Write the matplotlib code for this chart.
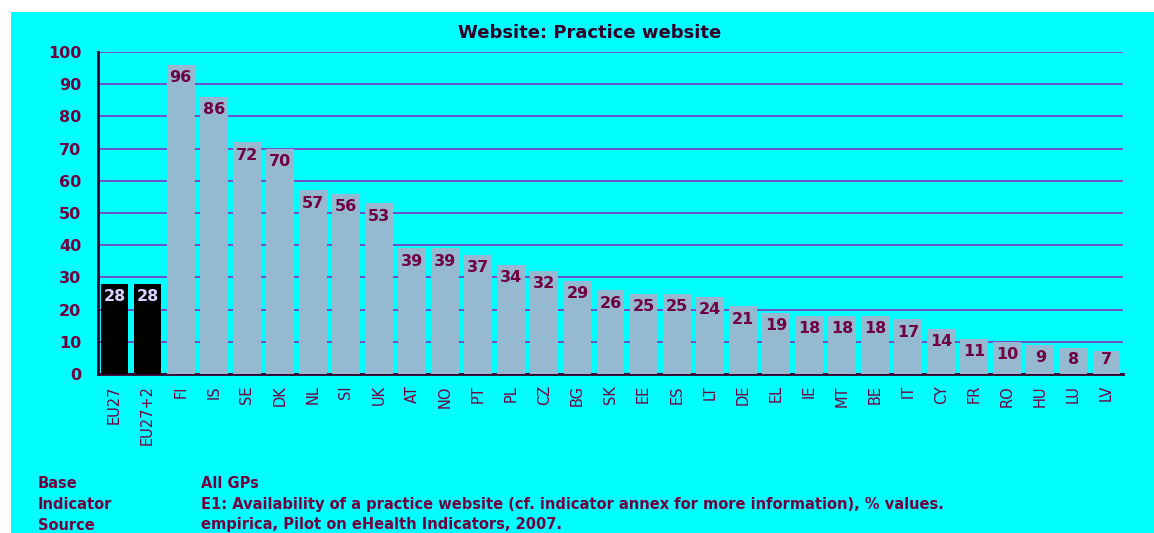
import matplotlib
matplotlib.use("Agg")
import matplotlib.pyplot as plt
from matplotlib.patches import Rectangle
import numpy as np


COUNTRIES = ["EU27", "EU27+2", "FI", "IS", "SE", "DK", "NL", "SI", "UK", "AT",
             "NO", "PT", "PL", "CZ", "BG", "SK", "EE", "ES", "LT", "DE", "EL",
             "IE", "MT", "BE", "IT", "CY", "FR", "RO", "HU", "LU", "LV"]
VALUES = [28, 28, 96, 86, 72, 70, 57, 56, 53, 39, 39, 37, 34, 32, 29, 26, 25,
          25, 24, 21, 19, 18, 18, 18, 17, 14, 11, 10, 9, 8, 7]
AVERAGES = ["EU27", "EU27+2"]

FOOTER_KEYS = ["Base", "Indicator", "Source"]
FOOTER_TEXT = [
    "All GPs",
    "E1: Availability of a practice website (cf. indicator annex for more information), % values.",
    "empirica, Pilot on eHealth Indicators, 2007.",
]

CYAN = "#00ffff"
BAR_COLOR = "#96b9d2"
TEXT_COLOR = "#700040"
GRID_COLOR = "#7a40cc"
AXIS_COLOR = "#3a0030"

W, H = 1154, 533


def main() -> None:
    fig = plt.figure(figsize=(W / 100, H / 100), dpi=100)
    fig.patch.set_facecolor("white")
    fig.add_artist(Rectangle((11 / W, 0), 1 - 11 / W, 1 - 12 / H,
                             transform=fig.transFigure, facecolor=CYAN,
                             edgecolor="none", zorder=-10))

    ax = fig.add_axes([98 / W, (H - 374) / H, (1123 - 98) / W, (374 - 52) / H])
    ax.set_facecolor("none")

    x = np.arange(len(COUNTRIES))
    colors = ["black" if c in AVERAGES else BAR_COLOR for c in COUNTRIES]
    ax.bar(x, VALUES, width=0.84, color=colors, zorder=3)

    for xi, v, c in zip(x, VALUES, COUNTRIES):
        ypos = max(v - 4.0, 4.4)
        tc = "#d8d0ff" if c in AVERAGES else TEXT_COLOR
        ax.text(xi, ypos, str(v), ha="center", va="center", fontsize=11.5,
                fontweight="bold", color=tc, zorder=4)

    ax.set_xlim(-0.5, len(COUNTRIES) - 0.5)
    ax.set_ylim(0, 100)
    ax.set_yticks(range(0, 101, 10))
    ax.yaxis.grid(True, color=GRID_COLOR, linewidth=1.3, zorder=1)
    ax.set_axisbelow(True)

    ax.set_xticks(x)
    ax.set_xticklabels(COUNTRIES, rotation=90, fontsize=10.5, color=TEXT_COLOR)
    ax.tick_params(axis="x", length=0, pad=8)
    ax.tick_params(axis="y", length=0, pad=12, labelsize=11.5,
                   labelcolor=TEXT_COLOR)
    for lbl in ax.get_yticklabels():
        lbl.set_fontweight("bold")

    for side in ["top", "right"]:
        ax.spines[side].set_visible(False)
    for side in ["left", "bottom"]:
        ax.spines[side].set_color(AXIS_COLOR)
        ax.spines[side].set_linewidth(2)

    fig.text(590 / W, 1 - 33 / H, "Website: Practice website", ha="center",
             va="center", fontsize=13, fontweight="bold", color="#300028")

    for i, (key, text) in enumerate(zip(FOOTER_KEYS, FOOTER_TEXT)):
        yy = 1 - (484 + i * 20.5) / H
        fig.text(38 / W, yy, key, ha="left", va="center", fontsize=10.5,
                 fontweight="bold", color=TEXT_COLOR)
        fig.text(201 / W, yy, text, ha="left", va="center", fontsize=10.5,
                 fontweight="bold", color=TEXT_COLOR)

    fig.savefig("out.png", dpi=100, facecolor=fig.get_facecolor())
    plt.close(fig)


if __name__ == "__main__":
    main()
